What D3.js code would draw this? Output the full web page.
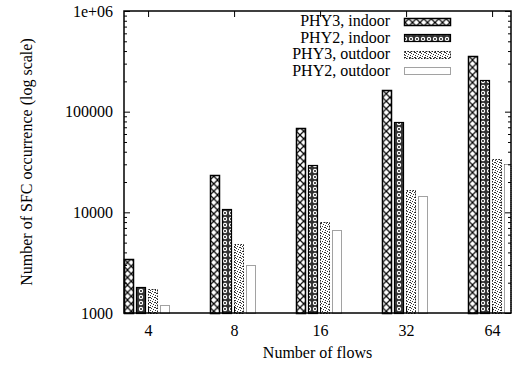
<!DOCTYPE html>
<html>
<head>
<meta charset="utf-8">
<script src="https://cdn.jsdelivr.net/npm/d3@7"></script>
<style>
  body { margin: 0; background: #fff; }
  text { font-family: "Liberation Serif", "DejaVu Serif", serif; font-size: 16px; fill: #000; }
</style>
</head>
<body>
<div id="viz"></div>
<script>
// data
const flows = ["4", "8", "16", "32", "64"];
const seriesNames = ["PHY3, indoor", "PHY2, indoor", "PHY3, outdoor", "PHY2, outdoor"];
const phy3Indoor = [3400, 23500, 68500, 166000, 356000];
const phy2Indoor = [1800, 10700, 29500, 78500, 208000];
const phy3Outdoor = [1720, 4900, 8050, 16600, 33500];
const phy2Outdoor = [1190, 2980, 6600, 14600, 30000];
const yMajor = [1000, 10000, 100000, 1000000];
const yLabels = ["1000", "10000", "100000", "1e+06"];

const allSeries = [phy3Indoor, phy2Indoor, phy3Outdoor, phy2Outdoor];

const W = 521, H = 369;
const margin = {top: 11, right: 10, bottom: 56, left: 124};
const pLeft = margin.left, pRight = W - margin.right, pTop = margin.top, pBottom = H - margin.bottom;

const svg = d3.select("#viz").append("svg")
  .attr("width", W).attr("height", H);

const defs = svg.append("defs");

// crosshatch
const pA = defs.append("pattern").attr("id", "pat0")
  .attr("patternUnits", "userSpaceOnUse").attr("width", 7.5).attr("height", 7.5);
pA.append("rect").attr("width", 7.5).attr("height", 7.5).attr("fill", "#fff");
pA.append("path").attr("d", "M0,0L7.5,7.5M7.5,0L0,7.5")
  .attr("stroke", "#000").attr("stroke-width", 1.2);

// dark with little rings
const pB = defs.append("pattern").attr("id", "pat1")
  .attr("patternUnits", "userSpaceOnUse").attr("width", 6).attr("height", 6);
pB.append("rect").attr("width", 6).attr("height", 6).attr("fill", "#333");
pB.append("circle").attr("cx", 3).attr("cy", 3).attr("r", 2.2).attr("fill", "#fff");
pB.append("circle").attr("cx", 3).attr("cy", 3).attr("r", 0.9).attr("fill", "#000");

// scattered dots
const pC = defs.append("pattern").attr("id", "pat2")
  .attr("patternUnits", "userSpaceOnUse").attr("width", 5).attr("height", 5);
pC.append("rect").attr("width", 5).attr("height", 5).attr("fill", "#fff");
[[0, 0], [2, 1], [4, 2], [1, 3], [3, 4], [0, 2]].forEach(p => {
  pC.append("rect").attr("x", p[0]).attr("y", p[1]).attr("width", 1).attr("height", 1).attr("fill", "#333");
});

const fills = ["url(#pat0)", "url(#pat1)", "url(#pat2)", "#fff"];
const strokes = ["#000", "#000", "#222", "#444"];
const strokeW = [1.5, 1.2, 1, 1];
const dashes = [null, null, "1.5,1.5", "1,1"];

const x = d3.scaleLinear().domain([-0.28, 4.22]).range([pLeft, pRight]);
const y = d3.scaleLog().domain([1000, 1e6]).range([pBottom, pTop]);

const pitch = 0.14, bw = 0.105, shift = -0.02;
const barW = Math.round(x(bw) - x(0));
const barX = (i, j) => Math.round(x(i + shift + (j - 1.5) * pitch - bw / 2)) + 0.5;

// bars (snapped to half pixels so the dotted outlines stay crisp; cut at the right frame)
const bars = svg.append("g");
allSeries.forEach((vals, j) => {
  bars.selectAll(".s" + j)
    .data(vals)
    .enter()
    .append("rect")
      .attr("class", "s" + j)
      .attr("x", (d, i) => barX(i, j))
      .attr("width", (d, i) => Math.min(barW, pRight - barX(i, j)))
      .attr("y", d => Math.round(y(d)) + 0.5)
      .attr("height", d => y(1000) - Math.round(y(d)))
      .attr("fill", fills[j])
      .attr("stroke", strokes[j])
      .attr("stroke-width", strokeW[j])
      .attr("stroke-dasharray", dashes[j]);
});

// minor ticks
const yMinor = [];
yMajor.slice(0, -1).forEach(m => { for (let k = 2; k < 10; k++) yMinor.push(m * k); });

svg.append("g").attr("transform", `translate(${pLeft},0)`)
  .call(d3.axisLeft(y).tickValues(yMajor).tickSize(-6).tickPadding(11)
    .tickFormat((d, i) => yLabels[i]));
svg.append("g").attr("transform", `translate(${pLeft},0)`)
  .call(d3.axisLeft(y).tickValues(yMinor).tickSize(-3).tickFormat(""));
svg.append("g").attr("transform", `translate(${pRight},0)`)
  .call(d3.axisRight(y).tickValues(yMajor).tickSize(-6).tickFormat(""));
svg.append("g").attr("transform", `translate(${pRight},0)`)
  .call(d3.axisRight(y).tickValues(yMinor).tickSize(-3).tickFormat(""));

svg.append("g").attr("transform", `translate(0,${pBottom})`)
  .call(d3.axisBottom(x).tickValues(d3.range(flows.length)).tickSize(-6).tickPadding(12)
    .tickFormat(i => flows[i]));
svg.append("g").attr("transform", `translate(0,${pTop})`)
  .call(d3.axisTop(x).tickValues(d3.range(flows.length)).tickSize(-6).tickFormat(""));

svg.selectAll(".domain").remove();
svg.selectAll(".tick line").attr("stroke", "#000").attr("stroke-width", 1);
svg.selectAll(".tick text").style("font-family", "'Liberation Serif', serif").style("font-size", "16px");

// frame
svg.append("rect")
  .attr("x", pLeft).attr("y", pTop)
  .attr("width", pRight - pLeft).attr("height", pBottom - pTop)
  .attr("fill", "none").attr("stroke", "#000").attr("stroke-width", 1.5);

// legend
const leg = svg.append("g");
seriesNames.forEach((name, j) => {
  const cy = 21 + j * 16.5;
  leg.append("text").attr("x", 390).attr("y", cy + 5).attr("text-anchor", "end").text(name);
  leg.append("rect").attr("x", 404.5).attr("y", Math.round(cy - 3.5) + 0.5).attr("width", 46).attr("height", 7)
    .attr("fill", fills[j]).attr("stroke", strokes[j])
    .attr("stroke-width", strokeW[j]).attr("stroke-dasharray", dashes[j]);
});

// axis titles
svg.append("text")
  .attr("x", (pLeft + pRight) / 2).attr("y", 358)
  .attr("text-anchor", "middle").text("Number of flows");
svg.append("text")
  .attr("transform", `translate(32,${(pTop + pBottom) / 2}) rotate(-90)`)
  .attr("text-anchor", "middle").text("Number of SFC occurrence (log scale)");
</script>
</body>
</html>
